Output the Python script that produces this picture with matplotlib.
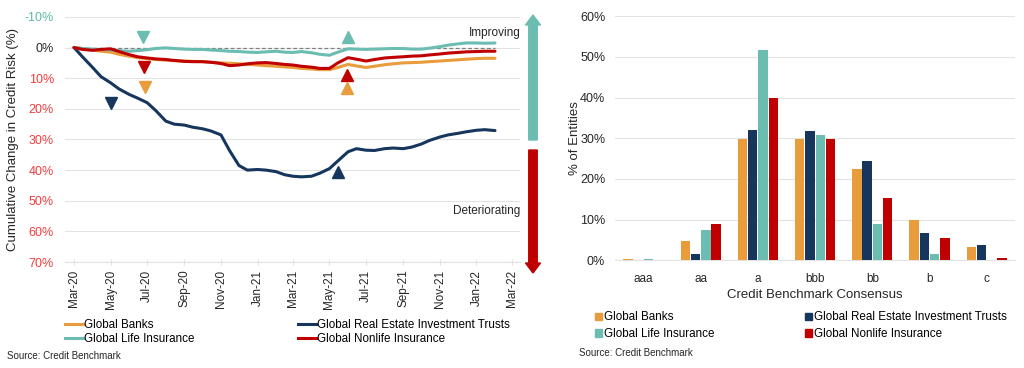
import pandas as pd
import numpy as np
import matplotlib
matplotlib.use('Agg')
import matplotlib.pyplot as plt
import matplotlib.dates as mdates
from matplotlib.patches import FancyArrow, Patch
from matplotlib.lines import Line2D

plt.rcParams['font.family'] = ['Liberation Sans', 'DejaVu Sans']

# cores
c_banks = '#E89C3C'
c_reit = '#17365D'
c_life = '#6CBDB1'
c_nonlife = '#C00000'
c_grid = '#E3E3E3'
c_text = '#262626'

series_names = ['Global Banks', 'Global Real Estate Investment Trusts',
                'Global Life Insurance', 'Global Nonlife Insurance']

# ---- dados do grafico de linhas (meio-mensal, Mar-20 a Fev-22) ----
dates = pd.date_range('2020-03-01', '2022-02-01', freq='SMS')

reit = [0, 3, 6.5, 9.5, 11.5, 13.5, 15.3, 16.5, 18, 20.5, 24, 25, 25.3, 26, 26.5, 27.2,
        28.5, 33.5, 38.5, 40, 39.8, 40, 40.5, 41.5, 42, 42.2, 42, 41, 39.5, 37, 34, 33,
        33.5, 33.6, 33, 32.8, 33, 32.5, 31.5, 30.3, 29.2, 28.5, 28, 27.5, 27, 26.8, 27.1]
banks = [0, 0.3, 0.8, 1.2, 1.5, 2.2, 2.8, 3.3, 3.6, 3.9, 4.1, 4.3, 4.4, 4.5, 4.6, 4.8,
         5.0, 5.1, 5.3, 5.5, 5.7, 5.9, 6.1, 6.3, 6.5, 6.8, 7.0, 7.2, 7.2, 6.5, 5.5, 6.0,
         6.5, 6.1, 5.6, 5.3, 5.0, 4.9, 4.8, 4.6, 4.4, 4.2, 4.0, 3.8, 3.6, 3.5, 3.5]
nonlife = [0, 0.6, 0.9, 0.6, 0.4, 1.3, 2.3, 3.0, 3.4, 3.7, 3.9, 4.2, 4.5, 4.6, 4.6, 4.8,
           5.2, 5.9, 5.7, 5.3, 5.0, 4.9, 5.2, 5.5, 5.7, 6.1, 6.4, 6.8, 6.8, 5.0, 3.3, 3.8,
           4.4, 3.9, 3.4, 3.2, 3.0, 2.8, 2.7, 2.4, 2.1, 1.8, 1.6, 1.4, 1.3, 1.2, 1.2]
life = [0, 0.3, 0.5, 0.6, 0.7, 1.0, 1.2, 1.0, 0.7, 0.3, 0.1, 0.3, 0.5, 0.6, 0.6, 0.8,
        1.0, 1.2, 1.3, 1.5, 1.6, 1.4, 1.2, 1.5, 1.6, 1.3, 1.7, 2.2, 2.5, 1.5, 0.4, 0.5,
        0.6, 0.5, 0.4, 0.3, 0.3, 0.5, 0.5, 0.2, -0.3, -0.8, -1.2, -1.5, -1.5, -1.4, -1.5]

# marcadores (triangulos)
mk_dates = ['2020-06-24', '2020-06-26', '2020-06-28', '2020-05-02',
            '2021-06-01', '2021-05-30', '2021-05-30', '2021-05-15']
mk_values = [-3.6, 6.5, 13.0, 18.0, -3.5, 8.8, 13.3, 40.7]
mk_shapes = ['v', 'v', 'v', 'v', '^', '^', '^', '^']
mk_colors = [c_life, c_nonlife, c_banks, c_reit, c_life, c_nonlife, c_banks, c_reit]

# ---- dados do grafico de barras ----
ratings = ['aaa', 'aa', 'a', 'bbb', 'bb', 'b', 'c']
bar_banks = [0.3, 4.7, 29.8, 29.8, 22.4, 10.0, 3.2]
bar_reit = [0.0, 1.5, 32.1, 31.7, 24.3, 6.8, 3.7]
bar_life = [0.2, 7.4, 51.8, 30.7, 8.8, 1.4, 0.0]
bar_nonlife = [0.0, 9.0, 39.8, 29.9, 15.3, 5.5, 0.6]

colors = [c_banks, c_reit, c_life, c_nonlife]
# ordem para preencher a legenda por linhas (matplotlib preenche por colunas)
leg_order = [0, 2, 1, 3]

fig = plt.figure(figsize=(10.24, 3.68), dpi=100)

# ================= grafico esquerdo =================
ax1 = fig.add_axes([0.0635, 0.288, 0.4445, 0.666])
ax1.plot(dates, banks, color=c_banks, lw=2.2, solid_capstyle='round')
ax1.plot(dates, reit, color=c_reit, lw=2.2, solid_capstyle='round')
ax1.plot(dates, life, color=c_life, lw=2.2, solid_capstyle='round')
ax1.plot(dates, nonlife, color=c_nonlife, lw=2.2, solid_capstyle='round')
ax1.plot([dates[0], dates[-1]], [0, 0], color='#808080', lw=0.9, ls=(0, (3, 2)), zorder=1)

for d, v, s, c in zip(mk_dates, mk_values, mk_shapes, mk_colors):
    ax1.plot(pd.Timestamp(d), v, marker=s, color=c, markersize=9, ls='none', zorder=5)

ax1.set_ylim(70, -10)
ax1.set_yticks(range(-10, 71, 10))
ax1.set_yticklabels([f'{v}%' for v in range(-10, 71, 10)])
for lab, v in zip(ax1.get_yticklabels(), range(-10, 71, 10)):
    if v < 0:
        lab.set_color('#5DB8A2')
    elif v == 0:
        lab.set_color(c_text)
    else:
        lab.set_color('#F03C3C')
ax1.set_xlim(pd.Timestamp('2020-02-15'), pd.Timestamp('2022-03-15'))
ax1.xaxis.set_major_locator(mdates.MonthLocator(bymonth=[1, 3, 5, 7, 9, 11]))
ax1.xaxis.set_major_formatter(mdates.DateFormatter('%b-%y'))
plt.setp(ax1.get_xticklabels(), rotation=90)
ax1.tick_params(axis='x', labelsize=8.5, colors=c_grid, labelcolor=c_text,
                direction='inout', length=4)
ax1.tick_params(axis='y', labelsize=9, length=0, pad=8)
ax1.grid(axis='y', color=c_grid, lw=0.8)
ax1.set_axisbelow(True)
for sp in ['top', 'right', 'left']:
    ax1.spines[sp].set_visible(False)
ax1.spines['bottom'].set_color(c_grid)
ax1.set_ylabel('Cumulative Change in Credit Risk (%)', fontsize=9.5, color=c_text, labelpad=4)

ax1.text(1.0, 0.935, 'Improving', transform=ax1.transAxes, ha='right', va='center',
         fontsize=8.5, color=c_text)
ax1.text(1.0, 0.208, 'Deteriorating', transform=ax1.transAxes, ha='right', va='center',
         fontsize=8.5, color=c_text)

# setas fora do eixo (coordenadas em polegadas)
fig.patches.append(FancyArrow(5.33, 2.28, 0, 1.25, width=0.085, head_width=0.15,
                              head_length=0.1, length_includes_head=True,
                              color=c_life, transform=fig.dpi_scale_trans, figure=fig))
fig.patches.append(FancyArrow(5.33, 2.18, 0, -1.23, width=0.085, head_width=0.15,
                              head_length=0.1, length_includes_head=True,
                              color=c_nonlife, transform=fig.dpi_scale_trans, figure=fig))

line_handles = [Line2D([], [], color=c, lw=2.2) for c in colors]
fig.legend([line_handles[i] for i in leg_order], [series_names[i] for i in leg_order],
           loc='upper left', bbox_to_anchor=(0.0635, 0.132), ncol=2, frameon=False,
           fontsize=8.4, handlelength=1.5, handletextpad=0.1, columnspacing=8.9,
           labelspacing=0.15, borderpad=0, borderaxespad=0)
fig.text(0.007, 0.025, 'Source: Credit Benchmark', fontsize=7, color=c_text)

# ================= grafico direito =================
ax2 = fig.add_axes([0.6005, 0.293, 0.391, 0.663])
x = np.arange(len(ratings))
pitch = 0.18
bw = 0.165
for i, (vals, c) in enumerate(zip([bar_banks, bar_reit, bar_life, bar_nonlife], colors)):
    ax2.bar(x + (i - 1.5) * pitch, vals, width=bw, color=c, zorder=3)
ax2.set_xlim(-0.5, len(ratings) - 0.5)
ax2.set_ylim(0, 60)
ax2.set_yticks(range(0, 61, 10))
ax2.set_yticklabels([f'{v}%' for v in range(0, 61, 10)])
ax2.set_xticks(x)
ax2.set_xticklabels(ratings)
ax2.tick_params(axis='both', length=0, labelsize=8.5, colors=c_text)
ax2.tick_params(axis='y', pad=7, labelsize=9)
ax2.tick_params(axis='x', pad=9)
ax2.grid(axis='y', color=c_grid, lw=0.8)
ax2.set_axisbelow(True)
for sp in ['top', 'right', 'left']:
    ax2.spines[sp].set_visible(False)
ax2.spines['bottom'].set_color(c_grid)
ax2.set_ylabel('% of Entities', fontsize=9.5, color=c_text, labelpad=-0.5)
ax2.set_xlabel('Credit Benchmark Consensus', fontsize=9.5, color=c_text, labelpad=3)

patch_handles = [Patch(color=c) for c in colors]
fig.legend([patch_handles[i] for i in leg_order], [series_names[i] for i in leg_order],
           loc='upper left', bbox_to_anchor=(0.581, 0.154), ncol=2, frameon=False,
           fontsize=8.4, handlelength=0.6, handleheight=0.6, handletextpad=0.2,
           columnspacing=7.7, labelspacing=0.4, borderpad=0, borderaxespad=0)
fig.text(0.565, 0.033, 'Source: Credit Benchmark', fontsize=7, color=c_text)

fig.savefig('out.png', dpi=100)
